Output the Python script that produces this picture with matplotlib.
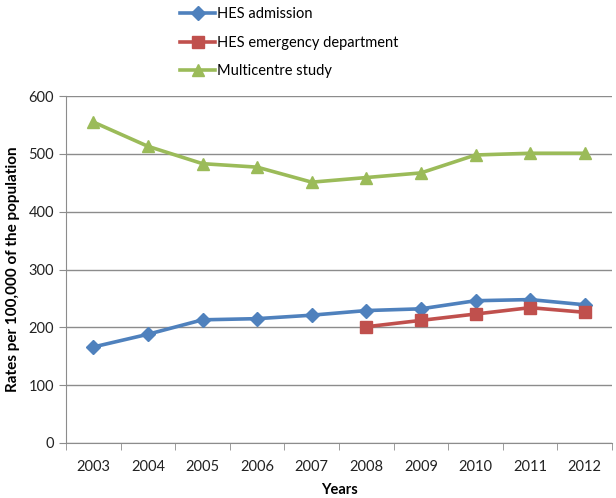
import matplotlib
matplotlib.use("Agg")
import matplotlib.pyplot as plt

years = ["2003", "2004", "2005", "2006", "2007", "2008", "2009", "2010", "2011", "2012"]
hes_admission = [166, 188, 213, 215, 221, 229, 232, 246, 248, 239]
hes_ed_years = ["2008", "2009", "2010", "2011", "2012"]
hes_ed = [201, 212, 223, 234, 226]
multicentre = [555, 513, 483, 477, 451, 459, 467, 498, 501, 501]

plt.rcParams['font.family'] = ['Lato', 'DejaVu Sans']

fig = plt.figure(figsize=(6.16, 4.98), dpi=100)
ax = fig.add_axes([66/616, 1 - 443/498, (612-66)/616, (443-96)/498])

x = list(range(len(years)))
x_ed = [years.index(y) for y in hes_ed_years]

ax.plot(x, hes_admission, '-D', color='#4F81BD', lw=2.6, ms=7.5, label='HES admission', zorder=3)
ax.plot(x_ed, hes_ed, '-s', color='#C0504D', lw=2.6, ms=8.5, label='HES emergency department', zorder=3)
ax.plot(x, multicentre, '-^', color='#9BBB59', lw=2.6, ms=9, label='Multicentre study', zorder=3)

ax.set_xlim(-0.5, len(years) - 0.5)
ax.set_ylim(0, 600)
ax.set_yticks(range(0, 601, 100))
ax.yaxis.grid(True, color='#8c8c8c', lw=1)
ax.set_axisbelow(True)

ax.set_xticks(x)
ax.set_xticklabels(years)
ax.set_xticks([i - 0.5 for i in range(len(years) + 1)], minor=True)
ax.tick_params(axis='x', which='major', length=0, pad=12, labelsize=10.5, colors='#222222')
ax.tick_params(axis='x', which='minor', length=5, color='#8c8c8c', direction='out')
ax.tick_params(axis='y', length=5, colors='#8c8c8c', labelcolor='#222222', labelsize=10.5)

for s in ['top', 'right']:
    ax.spines[s].set_visible(False)
ax.spines['left'].set_color('#8c8c8c')
ax.spines['bottom'].set_color('#8c8c8c')

ax.set_xlabel('Years', fontweight='bold', fontsize=10.5, labelpad=7)
ax.set_ylabel('Rates per 100,000 of the population', fontweight='bold', fontsize=11, labelpad=6)

fig.legend(loc='upper left', bbox_to_anchor=(167/616, 1.012), frameon=False,
           fontsize=10.5, labelspacing=1.0, handlelength=2.4, handletextpad=0.1)

fig.savefig('out.png', dpi=100)
